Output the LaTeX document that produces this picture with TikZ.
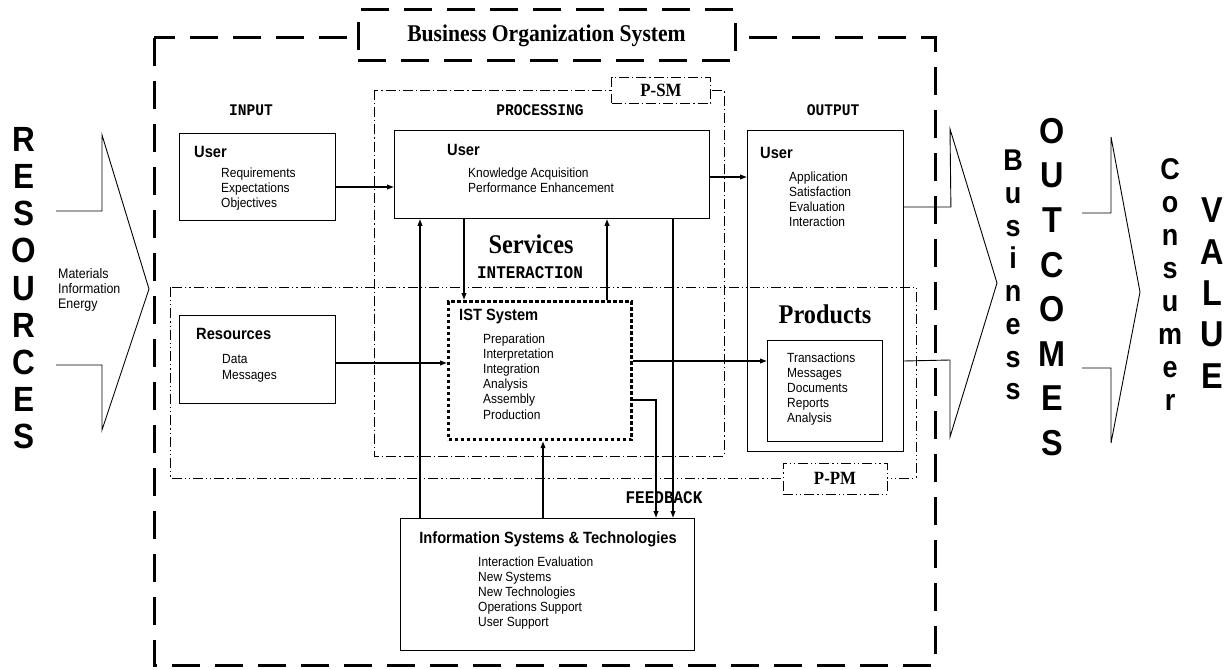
\documentclass[tikz,border=0pt]{standalone}
\usepackage{fontspec}
\setmainfont{Liberation Serif}[FakeStretch=0.9]
\setsansfont{Liberation Sans}[FakeStretch=0.9]
\setmonofont{Liberation Mono}[FakeStretch=0.9]
\usetikzlibrary{arrows.meta}

\begin{document}
\begin{tikzpicture}[x=1pt, y=-1pt, >={Triangle[length=7pt,width=4.5pt]},
  box/.style={draw, line width=0.9pt, anchor=north west, inner sep=0pt},
  istbox/.style={draw, line width=3.2pt, dash pattern=on 3.3pt off 2.7pt, anchor=north west, inner sep=0pt},
  bosline/.style={line width=3pt, dash pattern=on 28pt off 15pt},
  procline/.style={line width=0.8pt, dash pattern=on 10pt off 3pt on 1.2pt off 3pt},
  ppmline/.style={line width=0.8pt, dash pattern=on 10pt off 3pt on 1.2pt off 3pt on 1.2pt off 3pt},
  flow/.style={line width=1.9pt},
  chevron/.style={line width=0.9pt, line join=miter},
  head/.style={font=\sffamily\bfseries\fontsize{16.3}{19}\selectfont, anchor=base west, inner sep=0pt},
  % multi-line lists are placed by the baseline of their last line
  items/.style={font=\sffamily\fontsize{13.3}{15.2}\selectfont, align=left, anchor=base west, inner sep=0pt},
  phase/.style={font=\ttfamily\bfseries\fontsize{16.2}{18}\selectfont, anchor=base, inner sep=0pt},
  tag/.style={font=\rmfamily\bfseries\fontsize{27}{30}\selectfont, anchor=base, inner sep=0pt},
  vword/.style={font=\sffamily\bfseries, align=center, anchor=north, inner sep=0pt}]
\useasboundingbox (0,0) rectangle (1225,669);

% ---- business organization system frame ----
\draw[bosline] (154,38) rectangle (935,665);
\node[bosline, draw, fill=white, minimum width=377, minimum height=51,
  font=\rmfamily\bfseries\fontsize{24}{26}\selectfont] (bos) at (546.5,35.5)
  {Business Organization System};

% ---- processing and product regions ----
\draw[procline] (374,90) rectangle (724,456);
\draw[ppmline] (170,287) rectangle (916,478);
\node[procline, draw, fill=white, minimum width=99, minimum height=26,
  font=\rmfamily\bfseries\fontsize{18.7}{20}\selectfont] (psm) at (661,90) {P-SM};
\node[ppmline, draw, fill=white, minimum width=104, minimum height=31,
  font=\rmfamily\bfseries\fontsize{18.7}{20}\selectfont] (ppm) at (835,478.5) {P-PM};

\node[phase] (lin) at (251,115) {INPUT};
\node[phase] (lproc) at (540,115) {PROCESSING};
\node[phase] (lout) at (833,115) {OUTPUT};

% ---- boxes ----
\node[box, minimum width=156, minimum height=87] (inuser) at (179,133) {};
\node[box, minimum width=315, minimum height=88] (procuser) at (394,130) {};
\node[box, minimum width=156, minimum height=321] (outuser) at (747,130) {};
\node[box, minimum width=115, minimum height=101] (products) at (767,340) {};
\node[box, minimum width=156, minimum height=88] (res) at (179,315) {};
\node[istbox, minimum width=183, minimum height=138] (ist) at (447,300) {};
\node[box, minimum width=294, minimum height=132] (tech) at (400,518) {};

% ---- box texts ----
\node[head] at (194,157) {User};
\node[items] at (221,207.4) {Requirements\\Expectations\\Objectives};
\node[head] at (447,155) {User};
\node[items] at (468,192.2) {Knowledge Acquisition\\Performance Enhancement};
\node[head] at (760,158) {User};
\node[items] at (789,226.6) {Application\\Satisfaction\\Evaluation\\Interaction};
\node[tag] (lprod) at (825,323) {Products};
\node[items] at (787,422.8) {Transactions\\Messages\\Documents\\Reports\\Analysis};
\node[head] at (196,339) {Resources};
\node[items] at (222,379) {Data\\Messages};
\node[head] at (459,320) {IST System};
\node[items] at (483,419) {Preparation\\Interpretation\\Integration\\Analysis\\Assembly\\Production};
\node[head, anchor=base] at (548,543) {Information Systems \& Technologies};
\node[items] at (478,626.8) {Interaction Evaluation\\New Systems\\New Technologies\\Operations Support\\User Support};
\node[tag] (lserv) at (531,253) {Services};
\node[phase, font=\ttfamily\bfseries\fontsize{17.8}{18}\selectfont] (linter) at (530,278) {INTERACTION};
\node[phase, font=\ttfamily\bfseries\fontsize{17.8}{18}\selectfont] (lfeed) at (664,503) {FEEDBACK};

% ---- connector columns and rows ----
\coordinate (colA) at (420,0);
\coordinate (colB) at (464,0);
\coordinate (colC) at (543,0);
\coordinate (colD) at (607,0);
\coordinate (colE) at (656,400);
\coordinate (colF) at (673,0);
\coordinate (rowI) at (0,187);
\coordinate (rowO) at (0,177);
\coordinate (rowR) at (0,363);
\coordinate (rowP) at (0,361);

% ---- flows ----
\draw[flow,->] (inuser.east |- rowI) -- (procuser.west |- rowI);
\draw[flow,->] (procuser.east |- rowO) -- (outuser.west |- rowO);
\draw[flow,->] (res.east |- rowR) -- (ist.west |- rowR);
\draw[flow,->] (ist.east |- rowP) -- (products.west |- rowP);
\draw[flow,->] (tech.north -| colA) -- (procuser.south -| colA);
\draw[flow,->] (procuser.south -| colB) -- (ist.north -| colB);
\draw[flow,->] (tech.north -| colC) -- (ist.south -| colC);
\draw[flow,->] (ist.north -| colD) -- (procuser.south -| colD);
\draw[flow,->] (ist.east |- colE) -| (tech.north -| colE);
\draw[flow,->] (procuser.south -| colF) -- (tech.north -| colF);

% ---- resources chevron ----
\draw[chevron] (56,211) -- (102,211) -- (102,135) -- (149,289) -- (102,430) -- (102,365) -- (56,365);
\node[vword, font=\sffamily\bfseries\fontsize{35}{37.2}\selectfont] (wres) at (24,127)
  {R\\E\\S\\O\\U\\R\\C\\E\\S};
\node[items, font=\sffamily\fontsize{13.8}{15}\selectfont] (lmat) at (58,308) {Materials\\Information\\Energy};

% ---- outcome and value chevrons ----
\draw[chevron] (outuser.north east) ++(0,77) -- ++(47,0) -- (950,129) -- (997,283)
  -- (950,437) -- (950,360) -- (outuser.east |- rowP);
\draw[chevron] (1082,213) -- (1111,213) -- (1111,137) -- (1140,292) -- (1111,443) -- (1111,368) -- (1082,368);
\node[vword, font=\sffamily\bfseries\fontsize{30}{32.7}\selectfont] (wbus) at (1013,150)
  {B\\u\\s\\i\\n\\e\\s\\s};
\node[vword, font=\sffamily\bfseries\fontsize{36}{44.6}\selectfont] (wout) at (1052,118)
  {O\\U\\T\\C\\O\\M\\E\\S};
\node[vword, font=\sffamily\bfseries\fontsize{30}{33.1}\selectfont] (wcon) at (1170,158)
  {C\\o\\n\\s\\u\\m\\e\\r};
\node[vword, font=\sffamily\bfseries\fontsize{36}{41.3}\selectfont] (wval) at (1212,198)
  {V\\A\\L\\U\\E};
\end{tikzpicture}
\end{document}
